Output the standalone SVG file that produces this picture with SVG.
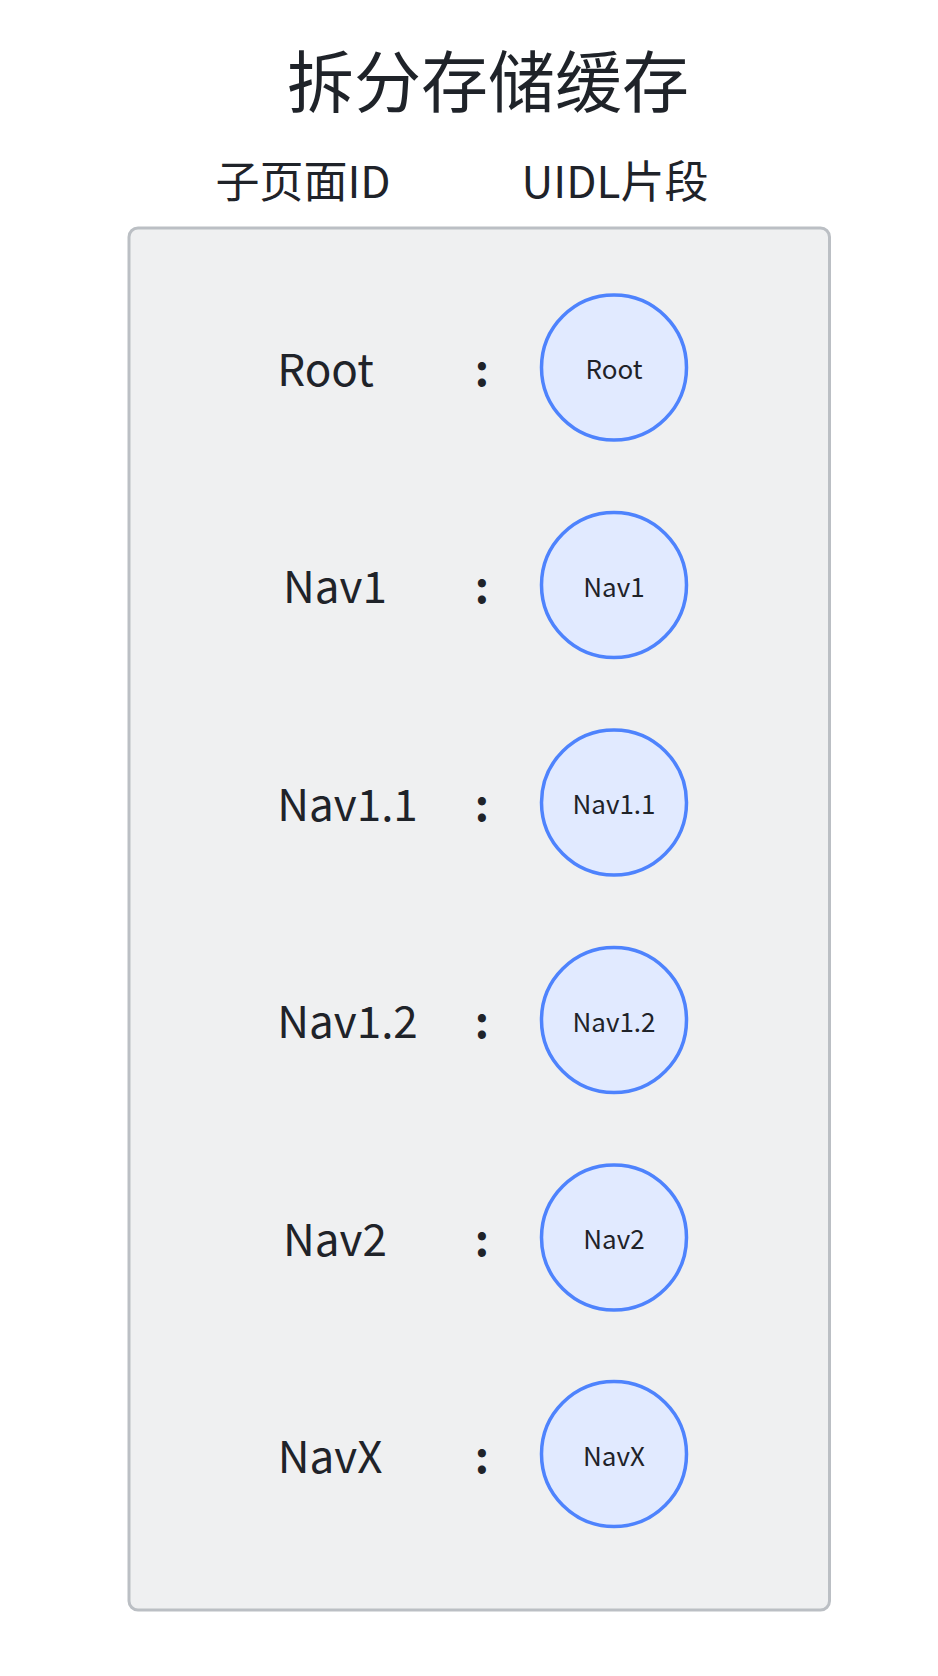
<svg xmlns="http://www.w3.org/2000/svg" width="938" height="1676" viewBox="0 0 938 1676">
<style>
.t{font-family:"Noto Sans CJK SC","Noto Sans",sans-serif;fill:#1f2329}
.title{font-size:67px;text-anchor:middle}
.hdr{font-size:44px;text-anchor:middle}
.lbl{font-size:44px;text-anchor:middle}
.col{font-size:44px;text-anchor:middle;font-weight:bold}
.cl{font-size:26px;text-anchor:middle}
.node{fill:#e1eaff;stroke:#4e83fd;stroke-width:3.5}
</style>
<rect width="938" height="1676" fill="#ffffff"/>
<text class="t title" x="488" y="107">拆分存储缓存</text>
<text class="t hdr" x="303" y="198">子页面ID</text>
<text class="t hdr" x="615" y="198">UIDL片段</text>
<g id="container">
<rect x="129" y="228" width="700.5" height="1382" rx="9" fill="#eff0f1" stroke="#bbbfc4" stroke-width="3"/>
</g>
<g id="connectors"></g>
<g id="row-root">
<text class="t lbl" x="325.5" y="386">Root</text>
<text class="t col" x="482" y="386">:</text>
<circle class="node" cx="614" cy="367.5" r="72.5"/>
<text class="t cl" x="614" y="379">Root</text>
</g>
<g id="row-nav1">
<text class="t lbl" x="335" y="603">Nav1</text>
<text class="t col" x="482" y="603">:</text>
<circle class="node" cx="614" cy="585" r="72.5"/>
<text class="t cl" x="614" y="596.5">Nav1</text>
</g>
<g id="row-nav11">
<text class="t lbl" x="347.5" y="820.5">Nav1.1</text>
<text class="t col" x="482" y="820.5">:</text>
<circle class="node" cx="614" cy="802.5" r="72.5"/>
<text class="t cl" x="614" y="814">Nav1.1</text>
</g>
<g id="row-nav12">
<text class="t lbl" x="347.5" y="1038">Nav1.2</text>
<text class="t col" x="482" y="1038">:</text>
<circle class="node" cx="614" cy="1020" r="72.5"/>
<text class="t cl" x="614" y="1031.5">Nav1.2</text>
</g>
<g id="row-nav2">
<text class="t lbl" x="335" y="1255.5">Nav2</text>
<text class="t col" x="482" y="1255.5">:</text>
<circle class="node" cx="614" cy="1237.5" r="72.5"/>
<text class="t cl" x="614" y="1249">Nav2</text>
</g>
<g id="row-navx">
<text class="t lbl" x="330" y="1473">NavX</text>
<text class="t col" x="482" y="1473">:</text>
<circle class="node" cx="614" cy="1454" r="72.5"/>
<text class="t cl" x="614" y="1465.5">NavX</text>
</g>
</svg>
